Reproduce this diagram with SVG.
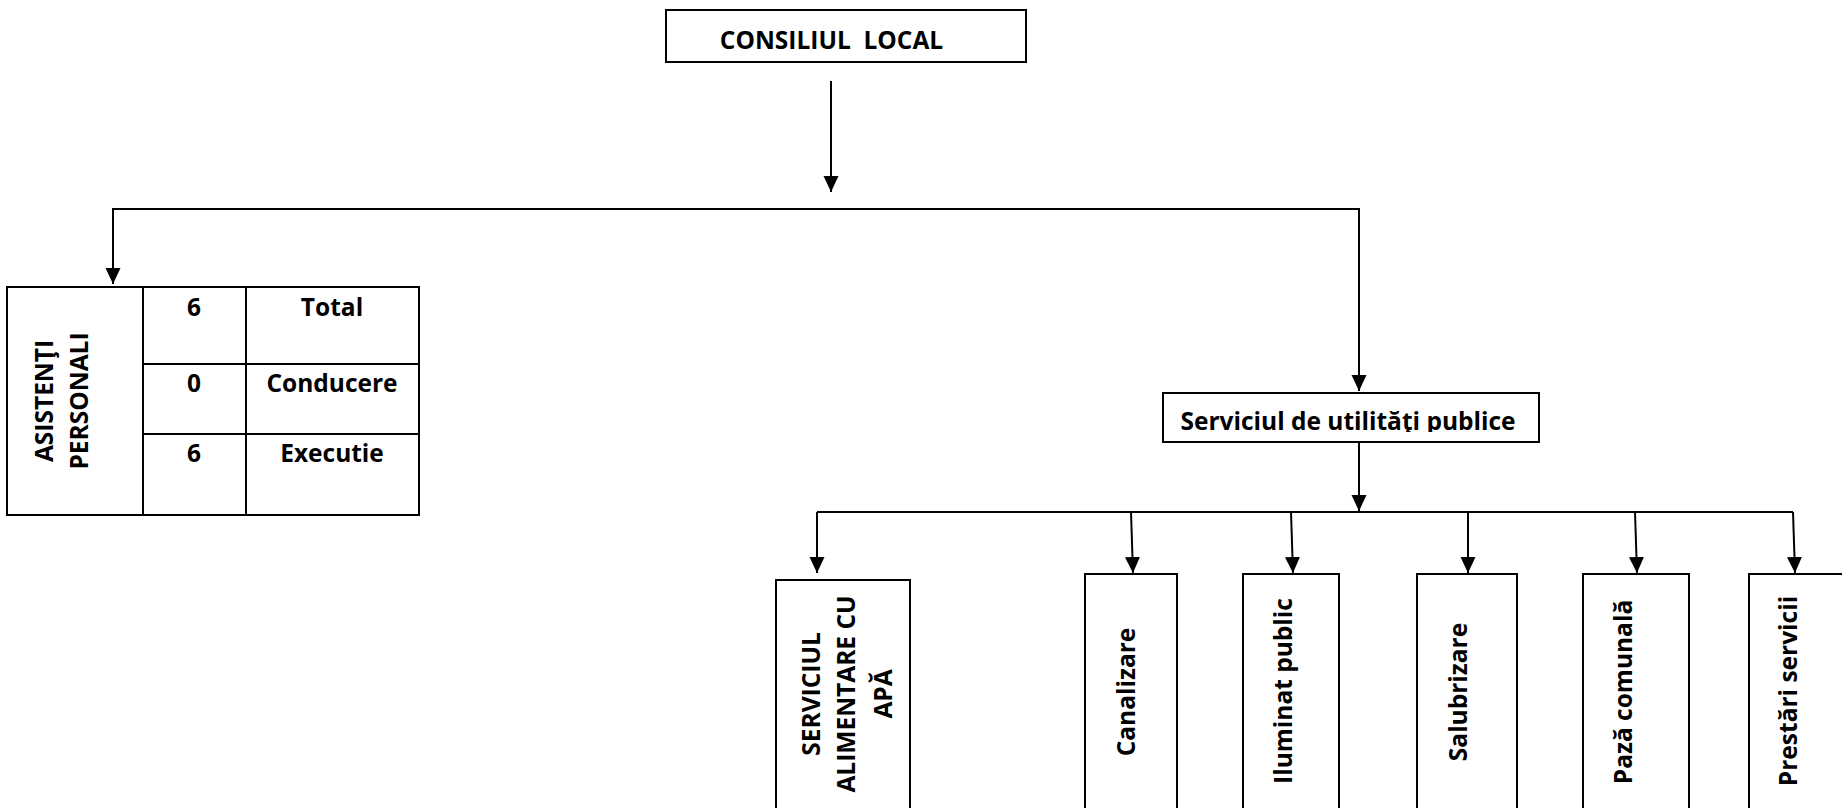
<svg xmlns="http://www.w3.org/2000/svg" width="1842" height="808" viewBox="0 0 1842 808">
<style>
.box{fill:#fff;stroke:#000;stroke-width:2}
.ln{fill:none;stroke:#000;stroke-width:2}
.t{font-family:"Open Sans","Liberation Sans",sans-serif;font-weight:bold;font-size:24.5px;fill:#000;font-variant-ligatures:none}
.m{text-anchor:middle}
</style>
<defs>
<marker id="ah" markerUnits="userSpaceOnUse" markerWidth="16" markerHeight="16" viewBox="0 0 16 16" refX="16" refY="8" orient="auto">
<path d="M0,0.5 L16,8 L0,15.5 z" fill="#000"/>
</marker>
<clipPath id="clipSU"><rect x="1164" y="394" width="374" height="38"/></clipPath>
</defs>
<rect width="1842" height="808" fill="#fff"/>
<g id="connectors">
<path class="ln" d="M831,81 V192" marker-end="url(#ah)"/>
<path class="ln" d="M831,209 H113 V284" marker-end="url(#ah)"/>
<path class="ln" d="M831,209 H1359 V391" marker-end="url(#ah)"/>
<path class="ln" d="M1359,442 V511" marker-end="url(#ah)"/>
<path class="ln" d="M817,512 H1793"/>
<path class="ln" d="M817,512 V573" marker-end="url(#ah)"/>
<path class="ln" d="M1131,512 L1133,573" marker-end="url(#ah)"/>
<path class="ln" d="M1291,512 L1293,573" marker-end="url(#ah)"/>
<path class="ln" d="M1468,512 V573" marker-end="url(#ah)"/>
<path class="ln" d="M1635,512 L1637,573" marker-end="url(#ah)"/>
<path class="ln" d="M1793,512 L1795,573" marker-end="url(#ah)"/>
</g>
<g id="consiliul-local">
<rect class="box" x="666" y="10" width="360" height="52"/>
<text class="t m" x="831.5" y="49" xml:space="preserve">CONSILIUL  LOCAL</text>
</g>
<g id="asistenti-personali">
<rect class="box" x="7" y="287" width="412" height="228"/>
<path class="ln" d="M143,287 V515 M246,287 V515 M143,364 H419 M143,434 H419"/>
<text class="t m" transform="translate(53,401) rotate(-90)">ASISTENŢI</text>
<text class="t m" transform="translate(88,401) rotate(-90)">PERSONALI</text>
<text class="t m" x="194" y="316">6</text>
<text class="t m" x="332" y="316">Total</text>
<text class="t m" x="194" y="392">0</text>
<text class="t m" x="332" y="392">Conducere</text>
<text class="t m" x="194" y="462">6</text>
<text class="t m" x="332" y="462">Executie</text>
</g>
<g id="serviciul-utilitati">
<rect class="box" x="1163" y="393" width="376" height="49"/>
<text class="t m" x="1348" y="430" clip-path="url(#clipSU)">Serviciul de utilităţi publice</text>
</g>
<g id="alimentare-apa">
<rect class="box" x="776" y="580" width="134" height="240"/>
<text class="t m" transform="translate(820,694) rotate(-90)">SERVICIUL</text>
<text class="t m" transform="translate(855,694) rotate(-90)">ALIMENTARE CU</text>
<text class="t m" transform="translate(892,694) rotate(-90)">APĂ</text>
</g>
<g id="canalizare">
<rect class="box" x="1085" y="574" width="92" height="246"/>
<text class="t m" transform="translate(1135,692) rotate(-90)">Canalizare</text>
</g>
<g id="iluminat-public">
<rect class="box" x="1243" y="574" width="96" height="246"/>
<text class="t m" transform="translate(1292,691) rotate(-90)">Iluminat public</text>
</g>
<g id="salubrizare">
<rect class="box" x="1417" y="574" width="100" height="246"/>
<text class="t m" transform="translate(1467,692) rotate(-90)">Salubrizare</text>
</g>
<g id="paza-comunala">
<rect class="box" x="1583" y="574" width="106" height="246"/>
<text class="t m" transform="translate(1632,692) rotate(-90)">Pază comunală</text>
</g>
<g id="prestari-servicii">
<rect class="box" x="1749" y="574" width="100" height="246"/>
<text class="t m" transform="translate(1797,691) rotate(-90)">Prestări servicii</text>
</g>
</svg>
